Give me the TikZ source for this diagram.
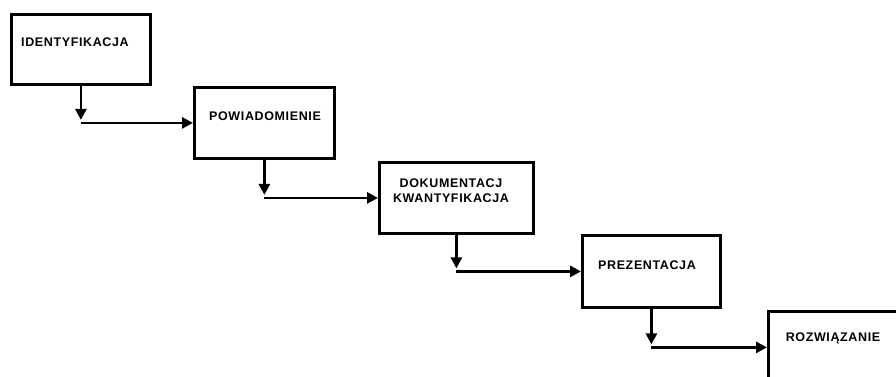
\documentclass[tikz,border=0pt]{standalone}
\usepackage{fontspec}
\setmainfont{Liberation Sans}[LetterSpace=5]
\usetikzlibrary{arrows.meta}
\begin{document}
\begin{tikzpicture}[x=1pt,y=-1pt,
  stagebox/.style={draw=black, line width=2.8pt, fill=white, minimum height=71pt,
    inner sep=0pt, anchor=north west},
  stagetext/.style={font=\fontsize{12.5}{15}\selectfont\bfseries, align=center, inner sep=0pt},
  flowline/.style={draw=black, line width=2.8pt, -{Triangle[length=11pt,width=11pt]}},
]
% page frame
\fill[white] (0,0) rectangle (896,376);
\clip (0,0) rectangle (896,376);

% stages of the cascade
\node[stagebox, minimum width=139pt, minimum height=70pt] (b1) at (10,13) {};
\node[stagebox, minimum width=140pt] (b2) at (193,86) {};
\node[stagebox, minimum width=154pt] (b3) at (378,161) {};
\node[stagebox, minimum width=138pt, minimum height=72pt] (b4) at (581,234) {};
\node[stagebox, minimum width=140pt, minimum height=72pt] (b5) at (767,310) {};

% stage names, set a little above the box centres
\node[stagetext] (t1) at (75,42) {IDENTYFIKACJA};
\node[stagetext] (t2) at (265,116) {POWIADOMIENIE};
\node[stagetext] (t3) at (451,190.5) {DOKUMENTACJ\\KWANTYFIKACJA};
\node[stagetext] (t4) at (647,265) {PREZENTACJA};
\node[stagetext] (t5) at (833,338) {ROZWIĄZANIE};

% elbow points below each stage
\coordinate (c1) at (b1.south |- b2.west);
\coordinate (c2) at (b2.south |- b3.west);
\coordinate (c3) at (b3.south |- b4.west);
\coordinate (c4) at (b4.south |- b5.west);

% connectors: down, then right into the next stage
\draw[flowline, shorten >=3pt] (b1.south) -- (c1);
\draw[flowline] (c1) -- (b2.west);
\draw[flowline, shorten >=3pt] (b2.south) -- (c2);
\draw[flowline] (c2) -- (b3.west);
\draw[flowline, shorten >=3pt] (b3.south) -- (c3);
\draw[flowline] (c3) -- (b4.west);
\draw[flowline, shorten >=3pt] (b4.south) -- (c4);
\draw[flowline] (c4) -- (b5.west);
\end{tikzpicture}
\end{document}
